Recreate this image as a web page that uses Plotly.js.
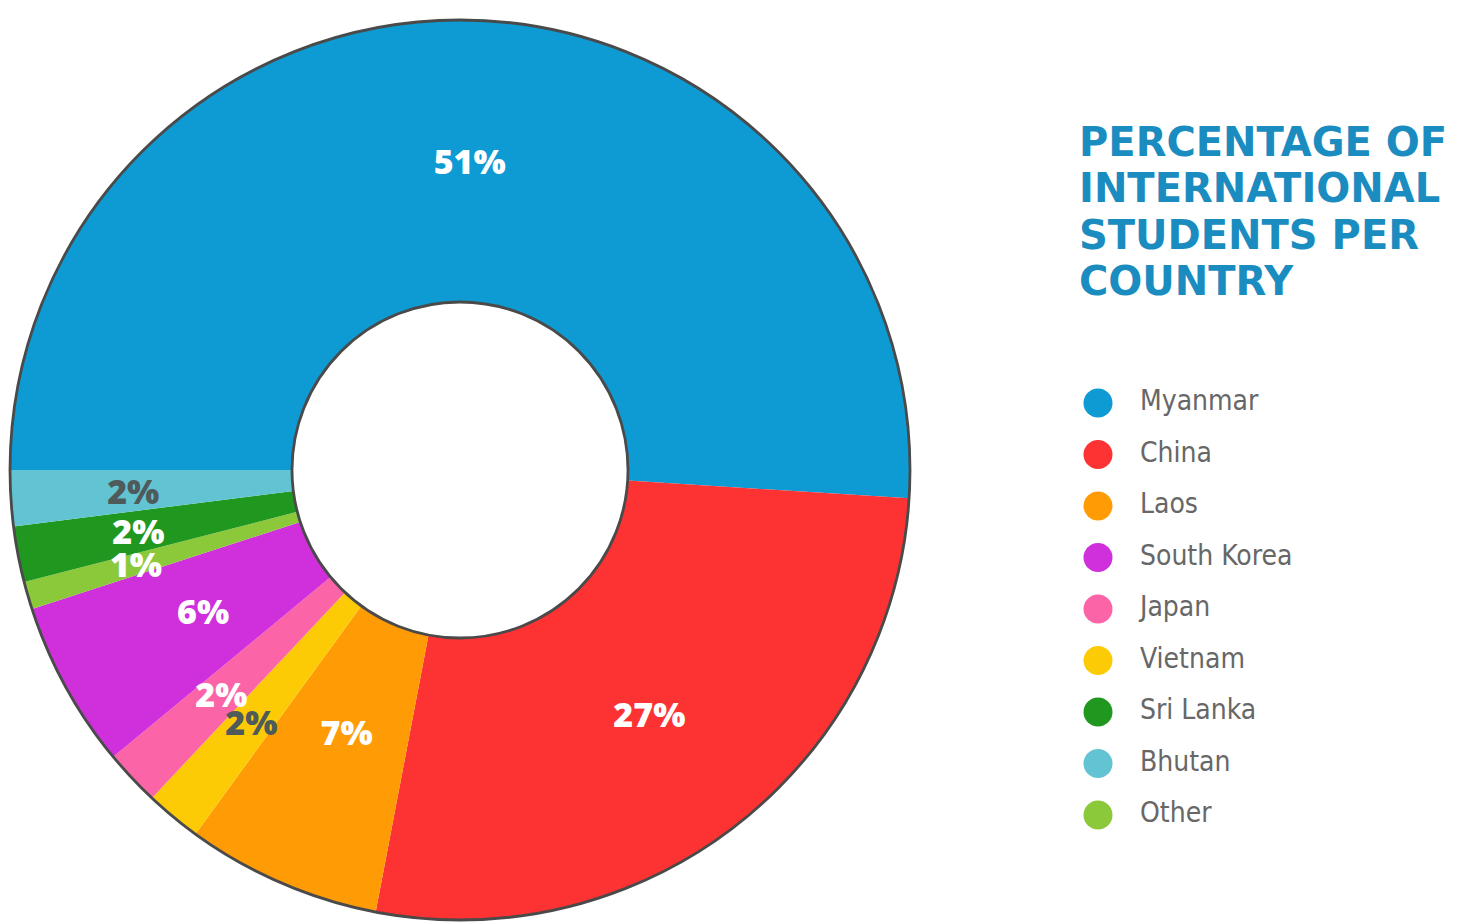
<!DOCTYPE html>
<html>
<head>
<meta charset="utf-8">
<script src="https://cdn.plot.ly/plotly-3.0.1.min.js"></script>
<style>
  html, body { margin: 0; padding: 0; background: #ffffff; }
  #chart { width: 1461px; height: 924px; }
</style>
</head>
<body>
<div id="chart"></div>
<script>
// Slices in clockwise drawing order, starting at 9 o'clock
const sliceLabels = ['Myanmar', 'China', 'Laos', 'Vietnam', 'Japan', 'South Korea', 'Other', 'Sri Lanka', 'Bhutan'];
const sliceValues = [51, 27, 7, 2, 2, 6, 1, 2, 2];

// Legend order as shown at the right
const legendLabels = ['Myanmar', 'China', 'Laos', 'South Korea', 'Japan', 'Vietnam', 'Sri Lanka', 'Bhutan', 'Other'];

const countryColors = {
  'Myanmar': '#0e9ad2',
  'China': '#fd3233',
  'Laos': '#ff9b05',
  'South Korea': '#d02fdc',
  'Japan': '#fb64a6',
  'Vietnam': '#fdcb05',
  'Sri Lanka': '#20981f',
  'Bhutan': '#62c4d2',
  'Other': '#8bc83a'
};
const darkLabelCountries = ['Vietnam', 'Bhutan'];

const titleLines = ['PERCENTAGE OF', 'INTERNATIONAL', 'STUDENTS PER', 'COUNTRY'];

const W = 1461, H = 924;
// pie geometry (pixels)
const cx = 460, cy = 470, R = 450, holePx = 168;
const Rtext = 348; // radius of the transparent ring that carries the thin-slice labels
function domainFor(r) {
  return { x: [(cx - r) / W, (cx + r) / W], y: [(H - cy - r) / H, (H - cy + r) / H] };
}

const labelFont = {
  family: '"Open Sans", Lato, sans-serif',
  size: 34,
  weight: 800,
  color: sliceLabels.map(l => darkLabelCountries.includes(l) ? '#4f5a5a' : '#ffffff')
};
const bigSlice = v => v >= 10;

const pie = {
  type: 'pie',
  labels: sliceLabels,
  values: sliceValues,
  sort: false,
  direction: 'clockwise',
  rotation: 270,
  hole: holePx / R,
  domain: domainFor(R),
  marker: {
    colors: sliceLabels.map(l => countryColors[l]),
    line: { width: 0 }
  },
  texttemplate: sliceValues.map(v => bigSlice(v) ? '%{value}%' : ''),
  textposition: 'inside',
  insidetextorientation: 'horizontal',
  textfont: labelFont,
  hoverinfo: 'label+percent',
  showlegend: false
};

// transparent inner ring used only to place the labels of the thin slices
const smallLabels = {
  type: 'pie',
  labels: sliceLabels,
  values: sliceValues,
  sort: false,
  direction: 'clockwise',
  rotation: 270,
  hole: holePx / Rtext,
  domain: domainFor(Rtext),
  marker: { colors: sliceLabels.map(() => 'rgba(0,0,0,0)'), line: { width: 0 } },
  texttemplate: sliceValues.map(v => bigSlice(v) ? '' : '%{value}%'),
  textposition: 'inside',
  insidetextorientation: 'horizontal',
  textfont: labelFont,
  hoverinfo: 'skip',
  showlegend: false
};

// outline ring (outer and inner edges only)
const outline = {
  type: 'pie',
  labels: ['outline'],
  values: [1],
  hole: holePx / R,
  domain: domainFor(R),
  sort: false,
  marker: { colors: ['rgba(0,0,0,0)'], line: { color: '#4a4a4a', width: 2.8 } },
  textinfo: 'none',
  hoverinfo: 'skip',
  showlegend: false
};

const legendMarkers = {
  type: 'scatter',
  mode: 'markers',
  x: legendLabels.map(() => 0),
  y: legendLabels,
  marker: { size: 29, color: legendLabels.map(l => countryColors[l]) },
  cliponaxis: false,
  hoverinfo: 'y',
  showlegend: false
};
const legendText = {
  type: 'scatter',
  mode: 'text',
  x: legendLabels.map(() => 1),
  y: legendLabels,
  text: legendLabels,
  textposition: 'middle right',
  textfont: { family: '"DejaVu Sans Condensed", "Liberation Sans Narrow", sans-serif', size: 28, color: '#676767' },
  cliponaxis: false,
  hoverinfo: 'skip',
  showlegend: false
};

const legTop = 403, legStep = 51.5, n = legendLabels.length;
const yTopPx = legTop - legStep / 2, yBotPx = legTop + legStep * (n - 0.5);

const titleTop = 142, titleStep = 46.5;
const titleAnnotations = titleLines.map((t, i) => ({
  text: t,
  xref: 'paper', yref: 'paper',
  x: 1077 / W, y: (H - (titleTop + titleStep * i)) / H,
  xanchor: 'left', yanchor: 'middle',
  align: 'left',
  showarrow: false,
  font: { family: '"DejaVu Sans", sans-serif', size: 40, weight: 'bold', color: '#1b8cc0' }
}));

const layout = {
  width: W,
  height: H,
  margin: { l: 0, r: 0, t: 0, b: 0 },
  paper_bgcolor: '#ffffff',
  plot_bgcolor: 'rgba(0,0,0,0)',
  showlegend: false,
  xaxis: {
    domain: [1098 / W, 1],
    range: [0, (W - 1098) / 42],
    visible: false,
    fixedrange: true
  },
  yaxis: {
    domain: [(H - yBotPx) / H, (H - yTopPx) / H],
    type: 'category',
    range: [n - 0.5, -0.5],
    visible: false,
    fixedrange: true
  },
  annotations: titleAnnotations,
  uniformtext: { mode: 'show', minsize: 34 }
};

Plotly.newPlot('chart', [pie, smallLabels, outline, legendMarkers, legendText], layout, { displayModeBar: false });
</script>
</body>
</html>
